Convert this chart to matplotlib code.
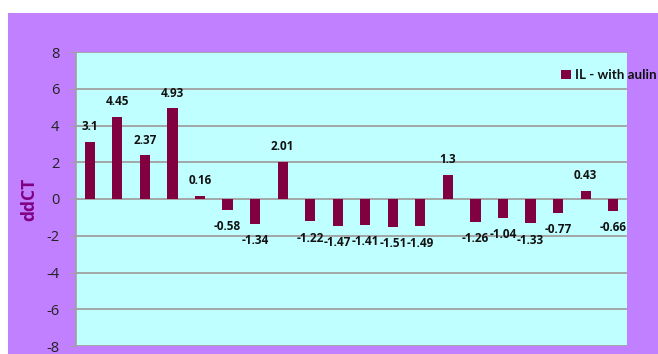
import matplotlib
matplotlib.use("Agg")
import matplotlib.pyplot as plt

categories = [f"S{i+1}" for i in range(20)]
values = [3.1, 4.45, 2.37, 4.93, 0.16, -0.58, -1.34, 2.01, -1.22, -1.47,
          -1.41, -1.51, -1.49, 1.3, -1.26, -1.04, -1.33, -0.77, 0.43, -0.66]
labels = ["3.1", "4.45", "2.37", "4.93", "0.16", "-0.58", "-1.34", "2.01", "-1.22", "-1.47",
          "-1.41", "-1.51", "-1.49", "1.3", "-1.26", "-1.04", "-1.33", "-0.77", "0.43", "-0.66"]
yticks = [-8, -6, -4, -2, 0, 2, 4, 6, 8]
series_name = "IL - with aulin"

plt.rcParams['font.family'] = ['Open Sans', 'DejaVu Sans']

W, H = 658, 354
fig = plt.figure(figsize=(W/100, H/100), dpi=100)
fig.patch.set_facecolor("white")

bg = fig.add_axes([8/W, 0, 1 - 8/W, (H-13)/H], zorder=-1)
bg.set_facecolor("#C080FF")
bg.set_xticks([]); bg.set_yticks([])
for s in bg.spines.values():
    s.set_visible(False)

ax = fig.add_axes([76/W, (H-346)/H, (627-76)/W, (346-52)/H], zorder=1)
ax.set_facecolor("#C0FFFF")
x = list(range(len(values)))
ax.bar(x, values, width=0.37, color="#800040", zorder=3, label=series_name)
ax.set_xlim(-0.5, len(values) - 0.5)
ax.set_ylim(-8, 8)
ax.set_yticks(yticks)
ax.set_yticklabels([str(t) for t in yticks], fontsize=10.5, color="#222222")
ax.set_xticks([])
ax.grid(axis="y", color="#A0A0A0", linewidth=1.3, zorder=1)
for s in ["top", "right", "bottom"]:
    ax.spines[s].set_visible(False)
ax.spines["left"].set_color("#A0A0A0")
ax.spines["left"].set_linewidth(1.2)
ax.tick_params(axis="y", direction="out", length=4, color="#A0A0A0", pad=8)

for xi, v, lab in zip(x, values, labels):
    off = 11 if v >= 0 else -12
    ax.annotate(lab, (xi, v), xytext=(0, off), textcoords="offset points",
                ha="center", va="center", fontsize=8.5, fontweight="bold",
                color="#111111", zorder=4)

ax.set_ylabel("ddCT", fontsize=12.5, fontweight="bold", color="#800080", labelpad=6)

leg = ax.legend(loc="center left", bbox_to_anchor=((556-76)/551, (346-75)/294),
                frameon=False, handlelength=0.7, handleheight=0.7, handletextpad=0.3,
                borderaxespad=0, prop={"family": ["Lato", "DejaVu Sans"], "size": 9.6, "weight": "bold"})
for t in leg.get_texts():
    t.set_color("#111111")
leg.set_zorder(5)

fig.savefig("out.png", dpi=100)
